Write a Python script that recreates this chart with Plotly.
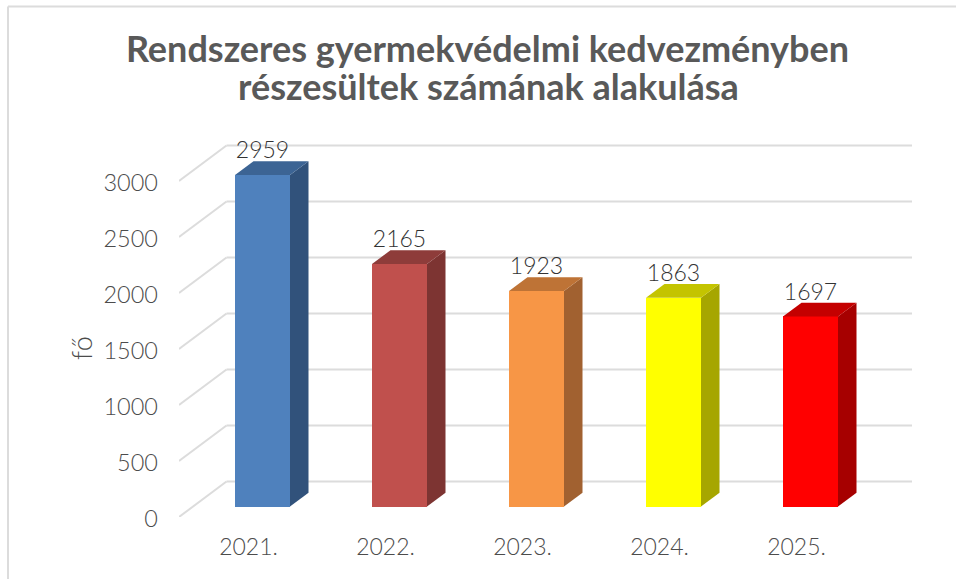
import plotly.graph_objects as go

years = ["2021.", "2022.", "2023.", "2024.", "2025."]
values = [2959, 2165, 1923, 1863, 1697]
front_colors = ["#4F81BD", "#C0504D", "#F79646", "#FFFF00", "#FF0000"]
side_colors = ["#31527B", "#7D3432", "#A16130", "#A6A600", "#A60000"]
top_colors = ["#3C6494", "#8E3C3A", "#BE7336", "#C4C400", "#C40000"]
y_ticks = [0, 500, 1000, 1500, 2000, 2500, 3000]
title_line1 = "Rendszeres gyermekvédelmi kedvezményben"
title_line2 = "részesültek számának alakulása"

W, H = 956, 579
L, R, T, B = 179, 912, 130, 517
PX_X = 137.0
PX_Y = 336 / 3000
x0 = -(262.5 - L) / PX_X
x1 = x0 + (R - L) / PX_X
y1 = (B - T) / PX_Y

bar_w = 55 / PX_X
bar_base = 10.5 / PX_Y
dx_bar, dy_bar = 18.5 / PX_X, 13.8 / PX_Y
dx_wall, dy_wall = 47.5 / PX_X, 35.5 / PX_Y
label_off = 22.5 / PX_Y

FONT = "Lato"
GREY = "#595959"
TICK = "#4C4C4C"
GRID = "#DCDCDC"

fig = go.Figure()
idx = list(range(len(years)))

fig.add_trace(go.Bar(
    x=idx, y=values, base=bar_base, width=bar_w,
    marker=dict(color=front_colors, line=dict(width=0)),
    hoverinfo="x+y", showlegend=False,
))

for i, v in enumerate(values):
    xl, xr = i - bar_w / 2, i + bar_w / 2
    yb, yt = bar_base, bar_base + v
    fig.add_trace(go.Scatter(
        x=[xr, xr + dx_bar, xr + dx_bar, xr, xr],
        y=[yb, yb + dy_bar, yt + dy_bar, yt, yb],
        mode="lines", fill="toself", fillcolor=side_colors[i],
        line=dict(width=0), hoverinfo="skip", showlegend=False,
    ))
    fig.add_trace(go.Scatter(
        x=[xl, xl + dx_bar, xr + dx_bar, xr, xl],
        y=[yt, yt + dy_bar, yt + dy_bar, yt, yt],
        mode="lines", fill="toself", fillcolor=top_colors[i],
        line=dict(width=0), hoverinfo="skip", showlegend=False,
    ))

fig.add_trace(go.Scatter(
    x=idx, y=[bar_base + v + label_off for v in values],
    mode="text", text=[str(v) for v in values], textposition="middle center",
    textfont=dict(family=FONT, size=23, color="#333333", weight=300),
    cliponaxis=False, hoverinfo="skip", showlegend=False,
))

shapes = []
for t in y_ticks:
    for (xa, ya, xb, yb) in [
        (x0, t, x0 + dx_wall, t + dy_wall),
        (x0 + dx_wall, t + dy_wall, x1, t + dy_wall),
    ]:
        shapes.append(dict(type="line", xref="x", yref="y", x0=xa, y0=ya, x1=xb, y1=yb,
                           layer="below", line=dict(color=GRID, width=2)))

def px(p):
    return (p - L) / (R - L)

def py(p):
    return (B - p) / (B - T)

shapes.append(dict(type="line", xref="paper", yref="paper", x0=px(8), x1=px(8),
                   y0=py(6.5), y1=py(H), line=dict(color=GRID, width=2)))
shapes.append(dict(type="line", xref="paper", yref="paper", x0=px(8), x1=px(W),
                   y0=py(6.5), y1=py(6.5), line=dict(color=GRID, width=2)))

fig.update_layout(
    width=W, height=H, autosize=False,
    margin=dict(l=L, r=W - R, t=T, b=H - B),
    paper_bgcolor="white", plot_bgcolor="white",
    showlegend=False, bargap=0, shapes=shapes,
    title=dict(text=title_line1, xref="paper", x=px(487.5), xanchor="center",
               yref="container", y=1 - 49 / H, yanchor="middle",
               font=dict(family=FONT, size=36, color=GREY, weight="bold")),
    xaxis=dict(range=[x0, x1], tickmode="array", tickvals=idx, ticktext=years,
               showgrid=False, zeroline=False, showline=False, ticks="",
               ticklabelstandoff=14, ticklabelshift=-14,
               tickfont=dict(family=FONT, size=23, color=TICK, weight=300)),
    yaxis=dict(range=[0, y1], tickmode="array", tickvals=y_ticks,
               showgrid=False, zeroline=False, showline=False, ticks="",
               ticklabelstandoff=20, ticklabelshift=2,
               tickfont=dict(family=FONT, size=23.5, color=TICK, weight=300)),
    annotations=[
        dict(text=title_line2, xref="paper", yref="paper", x=px(488.5), y=py(86),
             xanchor="center", yanchor="middle", showarrow=False,
             font=dict(family=FONT, size=36, color=GREY, weight="bold")),
        dict(text="fő", xref="paper", yref="paper", x=px(81), y=py(348),
             xanchor="center", yanchor="middle", showarrow=False, textangle=-90,
             font=dict(family=FONT, size=27, color=TICK, weight=300)),
    ],
)

fig.write_html("out.html", config={"displayModeBar": False},
               post_script="document.body.style.margin='0';")
